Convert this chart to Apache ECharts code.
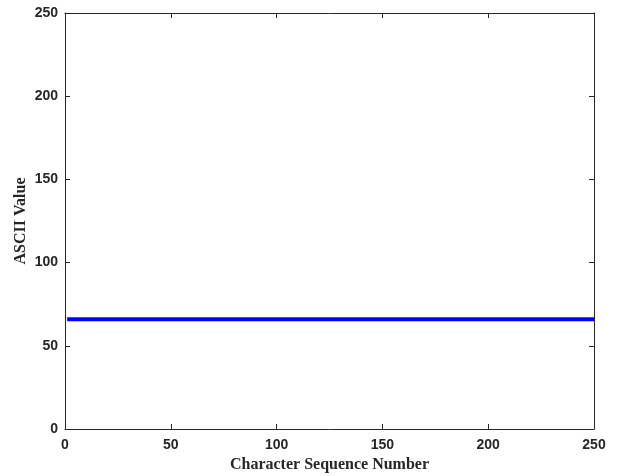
<!DOCTYPE html>
<html>
<head>
<meta charset="utf-8">
<script src="https://cdn.jsdelivr.net/npm/echarts@6/dist/echarts.min.js"></script>
<style>
	html, body { margin: 0; padding: 0; background: #fff; }
	#chart { width: 619px; height: 476px; }
</style>
</head>
<body>
<div id="chart"></div>
<script>
// sequence positions (first and last character) and their ASCII value
const seqIndex = [1, 250]
const asciiValue = [66, 66]
const xTicks = [0, 50, 100, 150, 200, 250]
const yTicks = [0, 50, 100, 150, 200, 250]

const frame = '#262626'
const tickFont = { color: '#262626', fontFamily: 'Liberation Sans, Arial', fontWeight: 'bold', fontSize: 14 }
const titleFont = { color: '#262626', fontFamily: 'Liberation Serif, Times New Roman', fontWeight: 'bold', fontSize: 16 }

const baseAxis = {
	type: 'value',
	min: xTicks[0],
	max: xTicks[xTicks.length - 1],
	interval: 50,
	axisLine: { show: true, onZero: false, lineStyle: { color: frame, width: 1 } },
	axisTick: { show: true, inside: true, length: 5, lineStyle: { color: frame, width: 1 } },
	splitLine: { show: false },
}

const myChart = echarts.init(document.getElementById('chart'))
const option = {
	backgroundColor: '#fff',
	animation: false,
	grid: { left: 65, right: 25, top: 13, bottom: 47, containLabel: false, outerBoundsMode: 'none' },
	xAxis: [
		{
			...baseAxis,
			position: 'bottom',
			name: 'Character Sequence Number',
			nameLocation: 'middle',
			nameGap: 28,
			nameMoveOverlap: false,
			nameTextStyle: titleFont,
			axisLabel: { ...tickFont, margin: 9 },
		},
		{ ...baseAxis, position: 'top', axisLabel: { show: false } },
	],
	yAxis: [
		{
			...baseAxis,
			min: yTicks[0],
			max: yTicks[yTicks.length - 1],
			position: 'left',
			name: 'ASCII Value',
			nameLocation: 'middle',
			nameGap: 36,
			nameMoveOverlap: false,
			nameTextStyle: titleFont,
			axisLabel: { ...tickFont, margin: 7 },
		},
		{ ...baseAxis, position: 'right', axisLabel: { show: false } },
	],
	series: [
		{
			type: 'line',
			data: seqIndex.map((x, i) => [x, asciiValue[i]]),
			showSymbol: false,
			lineStyle: { color: '#0000ff', width: 4 },
			silent: true,
		},
	],
}
myChart.setOption(option)
</script>
</body>
</html>
